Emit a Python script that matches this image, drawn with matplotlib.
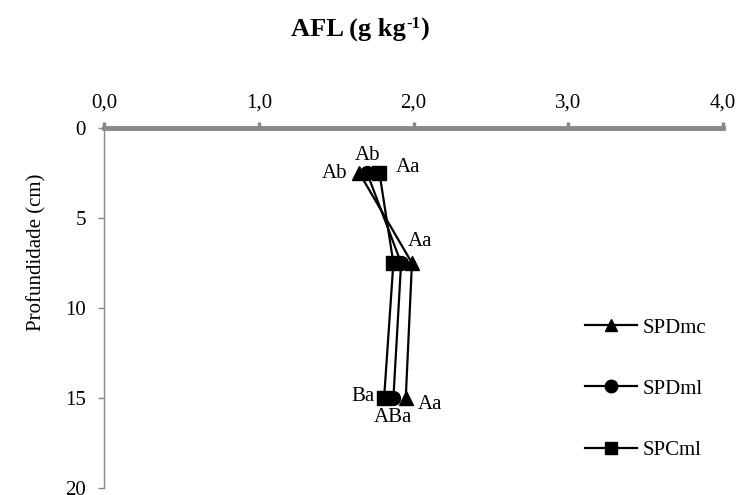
import matplotlib.pyplot as plt
from matplotlib.transforms import IdentityTransform

plt.rcParams['font.family'] = ['Liberation Serif', 'DejaVu Serif']

depth = [2.5, 7.5, 15]
series = ["SPDmc", "SPDml", "SPCml"]
markers = ["^", "o", "s"]
afl_spdmc = [1.65, 1.99, 1.95]
afl_spdml = [1.70, 1.92, 1.87]
afl_spcml = [1.78, 1.87, 1.81]
x_ticks = [0, 1, 2, 3, 4]
y_ticks = [0, 5, 10, 15, 20]

# letters from the mean comparison test, placed next to each point
letters = [
    ("Ab", afl_spdmc[0], depth[0], -9, 0, "right", "center"),
    ("Ab", afl_spdml[0], depth[0], 0, 6, "center", "bottom"),
    ("Aa", afl_spcml[0], depth[0], 12, 4, "left", "center"),
    ("Aa", afl_spdmc[1], depth[1], 6, 9, "center", "bottom"),
    ("Ba", afl_spcml[2], depth[2], -7, 1, "right", "center"),
    ("ABa", afl_spdml[2], depth[2], 0, -7, "center", "top"),
    ("Aa", afl_spdmc[2], depth[2], 9, -5, "left", "center"),
]

FS = 15

fig = plt.figure(figsize=(7.38, 4.95), dpi=100)
ax = fig.add_axes([104 / 738, 1 - 488 / 495, (723 - 104) / 738, (488 - 128) / 495])

for name, vals, m in zip(series, [afl_spdmc, afl_spdml, afl_spcml], markers):
    ax.plot(vals, depth, color="black", lw=1.6, marker=m, ms=10,
            label=name, clip_on=False)

for txt, x, y, dx, dy, ha, va in letters:
    ax.annotate(txt, (x, y), xytext=(dx, dy), textcoords="offset points",
                ha=ha, va=va, fontsize=FS)

ax.set_xlim(0, 4)
ax.set_ylim(20, 0)
ax.set_xticks(x_ticks)
ax.set_xticklabels([f"{v:.1f}".replace(".", ",") for v in x_ticks])
ax.set_yticks(y_ticks)
ax.xaxis.tick_top()
ax.tick_params(axis="x", direction="out", length=4, width=2.5, color="#888888",
               labelsize=FS, pad=7)
ax.tick_params(axis="y", direction="out", length=4, width=1, color="#888888",
               labelsize=FS, pad=9)
for side in ["right", "bottom"]:
    ax.spines[side].set_visible(False)
ax.spines["top"].set_color("#888888")
ax.spines["top"].set_linewidth(3.5)
ax.spines["left"].set_color("#888888")
ax.spines["left"].set_linewidth(1)

ax.set_ylabel("Profundidade (cm)", fontsize=FS)
ax.yaxis.set_label_coords(-0.093, 0.656)

ax.legend(loc="center left", bbox_to_anchor=(0.777, 0.275), frameon=False,
          fontsize=FS, handlelength=2.5, labelspacing=2.0, handletextpad=0.25,
          borderaxespad=0, borderpad=0, markerscale=0.9)

# bold title with a raised "-1" exponent, laid out in pixels
ident = IdentityTransform()
renderer = fig.canvas.get_renderer()
base_y = 495 - 36
parts = [("AFL (g kg", 19, 0), ("-1", 12, 8), (")", 19, 0)]
texts = []
x = 0
for s, size, rise in parts:
    t = fig.text(x, base_y + rise, s, fontsize=size, fontweight="bold",
                 va="baseline", ha="left", transform=ident)
    x = t.get_window_extent(renderer).x1
    texts.append(t)
shift = 360 - x / 2
for t in texts:
    px, py = t.get_position()
    t.set_position((px + shift, py))

fig.savefig("out.png", dpi=100)
